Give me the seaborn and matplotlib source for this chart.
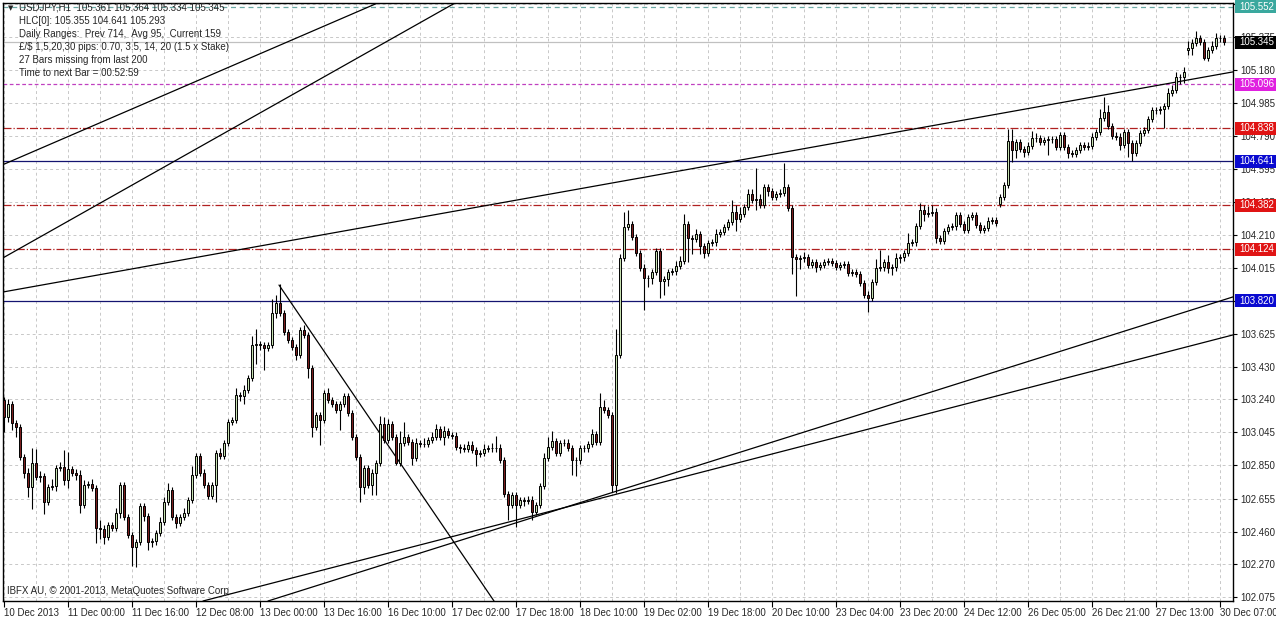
import numpy as np
import pandas as pd
import matplotlib
matplotlib.use("Agg")
import matplotlib.pyplot as plt
import matplotlib.transforms as mtransforms
from matplotlib.patches import Rectangle
import seaborn as sns

# USDJPY H1 closes
closes = [
    103.136, 103.212, 103.100, 103.077, 102.900, 102.806, 102.723, 102.864, 102.782, 102.785,
    102.635, 102.723, 102.728, 102.835, 102.840, 102.764, 102.829, 102.806, 102.794, 102.617,
    102.735, 102.741, 102.717, 102.481, 102.478, 102.428, 102.499, 102.481, 102.570, 102.735,
    102.546, 102.440, 102.369, 102.399, 102.611, 102.552, 102.399, 102.402, 102.452, 102.517,
    102.635, 102.705, 102.546, 102.511, 102.546, 102.570, 102.646, 102.794, 102.906, 102.806,
    102.735, 102.670, 102.735, 102.923, 102.905, 102.982, 103.106, 103.118, 103.265, 103.262,
    103.295, 103.365, 103.560, 103.563, 103.558, 103.542, 103.560, 103.748, 103.807, 103.748,
    103.636, 103.589, 103.548, 103.501, 103.648, 103.619, 103.424, 103.077, 103.147, 103.118,
    103.277, 103.236, 103.212, 103.177, 103.212, 103.259, 103.159, 103.018, 102.900, 102.723,
    102.835, 102.735, 102.806, 102.864, 103.094, 103.000, 103.094, 103.018, 102.864, 102.982,
    103.018, 102.988, 102.894, 102.982, 102.976, 102.979, 103.000, 103.018, 103.065, 103.018,
    103.053, 103.029, 103.026, 102.959, 102.955, 102.947, 102.971, 102.941, 102.918, 102.923,
    102.947, 102.953, 102.950, 102.955, 102.882, 102.682, 102.617, 102.676, 102.617, 102.646,
    102.643, 102.648, 102.576, 102.617, 102.729, 102.894, 102.959, 102.994, 102.923, 102.982,
    102.985, 102.953, 102.882, 102.879, 102.953, 102.950, 102.976, 103.035, 102.988, 103.194,
    103.177, 103.147, 102.735, 103.501, 104.073, 104.255, 104.273, 104.196, 104.102, 104.014,
    103.955, 103.952, 103.990, 104.114, 103.937, 103.949, 103.990, 103.993, 104.025, 104.055,
    104.273, 104.190, 104.187, 104.214, 104.143, 104.102, 104.161, 104.164, 104.214, 104.226,
    104.255, 104.285, 104.344, 104.303, 104.332, 104.373, 104.450, 104.414, 104.420, 104.385,
    104.491, 104.467, 104.432, 104.450, 104.456, 104.491, 104.367, 104.078, 104.067, 104.070,
    104.078, 104.031, 104.049, 104.019, 104.031, 104.049, 104.052, 104.043, 104.019, 104.031,
    104.037, 103.984, 103.987, 103.978, 103.925, 103.855, 103.837, 103.931, 104.014, 104.017,
    104.049, 104.014, 104.017, 104.073, 104.076, 104.102, 104.161, 104.164, 104.261, 104.355,
    104.332, 104.338, 104.344, 104.190, 104.173, 104.232, 104.255, 104.258, 104.326, 104.273,
    104.238, 104.314, 104.326, 104.267, 104.238, 104.249, 104.291, 104.296, 104.280, 104.432,
    104.503, 104.762, 104.709, 104.756, 104.715, 104.697, 104.733, 104.780, 104.777, 104.756,
    104.768, 104.771, 104.774, 104.727, 104.797, 104.727, 104.691, 104.688, 104.709, 104.738,
    104.727, 104.733, 104.786, 104.815, 104.898, 104.933, 104.850, 104.792, 104.786, 104.738,
    104.815, 104.750, 104.691, 104.750, 104.809, 104.827, 104.892, 104.945, 104.942, 104.948,
    104.968, 105.045, 105.063, 105.139, 105.136, 105.169, 105.310, 105.340, 105.369, 105.345,
    105.251, 105.298, 105.322, 105.369, 105.366, 105.345,
]

# wick lengths above / below the body, in pips
wick_up = [
    2, 3, 2, 2, 2, 2, 3, 9, 8, 3,
    2, 2, 4, 2, 3, 10, 10, 2, 2, 3,
    3, 2, 3, 2, 5, 2, 2, 2, 3, 2,
    2, 2, 2, 2, 2, 2, 2, 2, 2, 3,
    3, 4, 2, 2, 2, 3, 2, 5, 2, 2,
    2, 2, 2, 2, 3, 2, 2, 2, 4, 2,
    3, 2, 5, 9, 2, 2, 2, 8, 5, 11,
    2, 2, 2, 2, 2, 3, 2, 2, 2, 2,
    2, 3, 2, 2, 2, 2, 2, 2, 2, 2,
    2, 2, 2, 2, 5, 4, 3, 2, 2, 7,
    9, 2, 2, 3, 2, 3, 2, 3, 3, 2,
    3, 2, 2, 2, 2, 2, 2, 2, 2, 2,
    3, 2, 3, 7, 2, 2, 2, 2, 2, 2,
    2, 2, 2, 2, 2, 3, 6, 6, 2, 2,
    2, 2, 2, 2, 2, 2, 2, 3, 2, 8,
    4, 2, 2, 15, 2, 9, 8, 2, 2, 2,
    2, 2, 2, 2, 2, 2, 2, 2, 3, 3,
    6, 2, 2, 3, 2, 2, 2, 2, 3, 2,
    2, 2, 7, 4, 4, 2, 3, 3, 18, 3,
    2, 2, 2, 2, 2, 14, 2, 2, 2, 2,
    3, 2, 2, 2, 2, 2, 2, 2, 2, 2,
    2, 2, 2, 2, 2, 2, 2, 2, 5, 10,
    2, 4, 2, 3, 2, 2, 6, 2, 2, 4,
    3, 4, 4, 2, 2, 2, 2, 2, 2, 2,
    2, 2, 2, 2, 2, 2, 2, 2, 2, 2,
    2, 7, 7, 2, 2, 2, 2, 4, 3, 2,
    2, 2, 2, 2, 2, 2, 2, 2, 2, 2,
    2, 2, 2, 2, 5, 9, 4, 2, 2, 2,
    2, 2, 2, 2, 2, 2, 2, 2, 2, 2,
    2, 3, 3, 3, 2, 3, 4, 2, 4, 2,
    2, 2, 3, 3, 2, 2,
]
wick_dn = [
    9, 3, 4, 6, 2, 3, 6, 13, 2, 3,
    7, 2, 2, 3, 2, 3, 5, 2, 3, 5,
    2, 2, 2, 9, 6, 4, 2, 2, 2, 3,
    2, 2, 11, 12, 2, 3, 5, 3, 2, 2,
    2, 2, 2, 3, 2, 2, 2, 2, 2, 2,
    2, 2, 2, 10, 2, 2, 2, 2, 2, 3,
    5, 2, 2, 11, 3, 13, 2, 2, 3, 2,
    2, 2, 2, 3, 2, 2, 6, 6, 2, 15,
    2, 2, 2, 2, 12, 2, 2, 2, 2, 9,
    4, 2, 6, 13, 2, 2, 2, 2, 1, 2,
    2, 2, 4, 2, 2, 2, 2, 2, 2, 2,
    5, 2, 2, 2, 3, 2, 2, 2, 7, 2,
    2, 2, 2, 2, 2, 2, 9, 2, 13, 2,
    3, 2, 5, 2, 2, 2, 2, 2, 2, 2,
    2, 2, 9, 9, 2, 2, 2, 2, 2, 2,
    2, 2, 4, 5, 2, 2, 2, 2, 2, 2,
    19, 5, 3, 2, 10, 8, 4, 2, 2, 2,
    2, 14, 9, 2, 5, 3, 2, 2, 2, 2,
    2, 2, 2, 7, 2, 2, 2, 2, 6, 2,
    2, 3, 2, 2, 2, 2, 2, 10, 22, 6,
    2, 2, 2, 3, 2, 2, 2, 2, 2, 2,
    2, 2, 2, 2, 2, 2, 8, 2, 2, 2,
    2, 3, 4, 2, 3, 2, 2, 2, 2, 2,
    4, 2, 2, 3, 2, 2, 2, 2, 2, 2,
    2, 2, 2, 2, 2, 2, 2, 2, 2, 2,
    2, 2, 7, 5, 2, 3, 2, 2, 2, 2,
    2, 9, 2, 2, 2, 2, 3, 2, 2, 2,
    2, 2, 2, 2, 2, 2, 2, 2, 2, 3,
    2, 8, 5, 2, 2, 2, 2, 2, 2, 2,
    11, 2, 2, 2, 4, 3, 3, 4, 2, 2,
    1, 2, 2, 2, 2, 2,
]

# bars whose open is not the previous close (first bar and gaps)
gap_opens = {0: 103.236, 249: 104.391, 296: 105.298}

date_labels = ["10 Dec 2013", "11 Dec 00:00", "11 Dec 16:00", "12 Dec 08:00", "13 Dec 00:00",
               "13 Dec 16:00", "16 Dec 10:00", "17 Dec 02:00", "17 Dec 18:00", "18 Dec 10:00",
               "19 Dec 02:00", "19 Dec 18:00", "20 Dec 10:00", "23 Dec 04:00", "23 Dec 20:00",
               "24 Dec 12:00", "26 Dec 05:00", "26 Dec 21:00", "27 Dec 13:00", "30 Dec 07:00"]
label_bars = list(range(0, 306, 16))

price_ticks = [102.075, 102.270, 102.460, 102.655, 102.850, 103.045, 103.240, 103.430,
               103.625, 103.820, 104.015, 104.210, 104.405, 104.595, 104.790, 104.985,
               105.180, 105.375, 105.570]
# tick values whose text sits fully under a level label in the reference
hidden_ticks = [103.820]

# horizontal levels drawn on the chart
level_prices = [105.552, 105.096, 104.838, 104.641, 104.382, 104.124, 103.820]
bid_price = 105.345

# trendlines: (bar, price) anchor pairs
trend_bars = [(-1, 94), (-0.25, 112.75), (-0.25, 307.25), (68.75, 122.5), (66, 307.25), (49.75, 307.25)]
trend_prices = [(104.615, 105.581), (104.073, 105.575), (103.872, 105.169),
                (103.913, 102.051), (102.051, 103.843), (102.051, 103.619)]

info_lines = ["USDJPY,H1  105.361 105.364 105.334 105.345",
              "HLC[0]: 105.355 104.641 105.293",
              "Daily Ranges:  Prev 714,  Avg 95,  Current 159",
              "£/$ 1,5,20,30 pips: 0.70, 3.5, 14, 20 (1.5 x Stake)",
              "27 Bars missing from last 200",
              "Time to next Bar = 00:52:59"]

df = pd.DataFrame({"close": closes, "up": wick_up, "dn": wick_dn})
df["open"] = df["close"].shift(1)
for k, v in gap_opens.items():
    df.loc[k, "open"] = v
df["high"] = df[["open", "close"]].max(axis=1) + df["up"] / 100
df["low"] = df[["open", "close"]].min(axis=1) - df["dn"] / 100
df["bar"] = np.arange(len(df))

sns.set_theme(style="white")
plt.rcParams["font.family"] = ["Liberation Sans", "DejaVu Sans"]

W, H = 1276, 619
fig = plt.figure(figsize=(W / 100, H / 100), dpi=100, facecolor="white")
ax = fig.add_axes([3 / W, 18 / H, 1230 / W, 598 / H])
ax.set_facecolor("white")

# grid
ax.set_xticks(range(0, 306, 8), minor=True)
ax.set_axisbelow(True)
grid_kw = dict(color="#c8c8c8", linestyle=(0, (3, 3)), linewidth=0.7)
ax.grid(True, which="both", axis="x", **grid_kw)
ax.grid(True, which="major", axis="y", **grid_kw)

# horizontal levels
ax.axhline(bid_price, color="#c0c0c0", lw=0.9, zorder=1)
lvl_styles = [("#6aa8a4", (0, (4, 3))), ("#c040c0", (0, (3, 2))), ("#b02020", "-."),
              ("#141470", "-"), ("#b02020", "-."), ("#b02020", "-."), ("#141470", "-")]
for p, (c, ls) in zip(level_prices, lvl_styles):
    ax.axhline(p, color=c, ls=ls, lw=0.9, zorder=1)

# trendlines
for bx, py in zip(trend_bars, trend_prices):
    sns.lineplot(x=list(bx), y=list(py), ax=ax, color="black", lw=0.9, zorder=2)

# candles
ax.vlines(df["bar"], df["low"], df["high"], color="black", lw=0.8, zorder=3)
bull = df["close"] >= df["open"]
body_lo = df[["open", "close"]].min(axis=1)
body_h = (df["close"] - df["open"]).abs().clip(lower=0.0015)
ax.bar(df["bar"][bull], body_h[bull], bottom=body_lo[bull], width=0.7,
       color="#c6e0b0", edgecolor="black", linewidth=0.7, zorder=4)
ax.bar(df["bar"][~bull], body_h[~bull], bottom=body_lo[~bull], width=0.7,
       color="#7a1e1e", edgecolor="black", linewidth=0.7, zorder=4)

ax.set_xlim(-0.25, 307.25)
ax.set_ylim(102.051, 105.575)

# axes
ax.yaxis.tick_right()
ax.set_yticks(price_ticks)
ax.set_yticklabels(["" if t in hidden_ticks else f"{t:.3f}" for t in price_ticks])
ax.set_xticks(label_bars)
ax.set_xticklabels(date_labels)
for lab in ax.get_xticklabels():
    lab.set_ha("left")
ax.tick_params(axis="y", which="major", length=3, width=0.8, color="black",
               labelsize=7, pad=2, right=True, left=False)
ax.tick_params(axis="x", which="major", length=4, width=0.8, color="black",
               labelsize=7, pad=1, bottom=True)
ax.tick_params(axis="x", which="minor", length=0)
for s in ax.spines.values():
    s.set_color("black")
    s.set_linewidth(1)
ax.set_xlabel("")
ax.set_ylabel("")

# price labels on the right: filled box running to the image edge
box_cols = ["#3aa89e", "#e020e0", "#e01414", "#0a0ad0", "#e01414", "#e01414", "#0a0ad0"]
trans = mtransforms.blended_transform_factory(ax.transAxes, ax.transData)
half_h = 6.5 * (105.575 - 102.051) / 598
for p, c in zip(level_prices + [bid_price], box_cols + ["black"]):
    ax.add_patch(Rectangle((1.0016, p - half_h), 0.05, 2 * half_h, transform=trans,
                           facecolor=c, edgecolor="none", clip_on=False, zorder=9))
    ax.text(1.0052, p, f"{p:.3f}", transform=trans, ha="left", va="center",
            fontsize=7, color="white", clip_on=False, zorder=10)

# info text top-left
fig.text(8 / W, 1 - 8 / H, "\u25bc", fontsize=5, va="center", ha="left",
         family=["DejaVu Sans"])
for i, line in enumerate(info_lines):
    fig.text(19 / W, 1 - (8 + 13 * i) / H, line, fontsize=7, va="center", ha="left")
fig.text(7 / W, 1 - 591 / H, "IBFX AU, \u00a9 2001-2013, MetaQuotes Software Corp.",
         fontsize=7, va="center", ha="left")

fig.savefig("out.png", dpi=100, facecolor="white")
